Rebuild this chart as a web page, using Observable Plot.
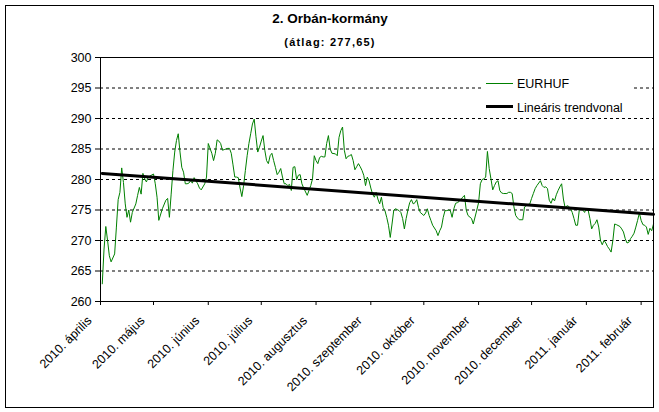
<!DOCTYPE html>
<html><head><meta charset="utf-8">
<script src="https://cdn.jsdelivr.net/npm/d3@7"></script>
<script src="https://cdn.jsdelivr.net/npm/@observablehq/plot@0.6"></script>
<style>
body{margin:0;background:#fff;font-family:"Liberation Sans",Arial,sans-serif;}
#wrap{position:relative;width:659px;height:412px;overflow:hidden;background:#fff;}
#chart{position:absolute;left:0;top:0;}
#frame{position:absolute;left:5px;top:5px;width:649px;height:403px;box-sizing:border-box;border:1px solid #000;pointer-events:none;}
#title{position:absolute;left:0;width:660px;top:11px;text-align:center;font-weight:bold;font-size:13.5px;line-height:16px;white-space:nowrap;}
#subtitle{position:absolute;left:0;width:660px;top:35px;text-align:center;font-weight:bold;font-size:11px;line-height:14px;letter-spacing:1.2px;white-space:nowrap;}
#legend{position:absolute;left:481px;top:70px;width:152px;height:46px;background:#fff;}
.sw{position:absolute;left:5px;width:27px;}
.lt{position:absolute;left:36px;font-size:12.5px;line-height:14px;white-space:nowrap;}
</style></head><body>
<div id="wrap">
  <div id="chart"></div>
  <div id="title">2. Orbán-kormány</div>
  <div id="subtitle">(átlag: 277,65)</div>
  <div id="legend">
    <div class="sw" style="top:13px;height:1px;background:#008000"></div>
    <span class="lt" style="top:7px">EURHUF</span>
    <div class="sw" style="top:35px;height:3px;background:#000"></div>
    <span class="lt" style="top:31px">Lineáris trendvonal</span>
  </div>
  <div id="frame"></div>
</div>
<script>
// EUR/HUF exchange rate
const eurhuf = [
["2010-04-02",262.9],["2010-04-03",268.6],["2010-04-04",272.3],["2010-04-05",270.0],["2010-04-06",267.5],["2010-04-07",266.5],["2010-04-09",267.8],["2010-04-10",272.2],["2010-04-11",276.7],["2010-04-12",277.9],["2010-04-13",281.9],["2010-04-14",279.5],["2010-04-15",276.0],["2010-04-16",273.8],["2010-04-17",275.0],["2010-04-18",273.0],["2010-04-19",274.6],["2010-04-21",276.0],["2010-04-22",277.4],["2010-04-23",278.7],["2010-04-24",277.6],["2010-04-25",281.0],["2010-04-26",280.1],["2010-04-27",279.6],["2010-04-28",280.4],
["2010-05-01",280.9],["2010-05-02",279.3],["2010-05-03",277.1],["2010-05-04",273.3],["2010-05-06",275.2],["2010-05-08",276.6],["2010-05-09",276.9],["2010-05-10",273.8],["2010-05-11",277.6],["2010-05-12",281.5],["2010-05-13",284.5],["2010-05-14",286.4],["2010-05-15",287.5],["2010-05-16",284.5],["2010-05-17",282.0],["2010-05-18",281.2],["2010-05-19",279.3],["2010-05-20",279.3],["2010-05-21",279.4],["2010-05-22",279.8],["2010-05-23",279.4],["2010-05-24",280.3],["2010-05-25",279.8],["2010-05-26",279.3],["2010-05-27",278.6],["2010-05-28",278.3],["2010-05-30",279.3],["2010-05-31",280.4],
["2010-06-01",285.9],["2010-06-02",285.1],["2010-06-03",284.3],["2010-06-04",283.1],["2010-06-05",284.3],["2010-06-06",286.5],["2010-06-07",286.3],["2010-06-08",285.9],["2010-06-09",284.8],["2010-06-10",284.9],["2010-06-12",285.1],["2010-06-13",285.1],["2010-06-14",284.3],["2010-06-15",282.4],["2010-06-16",280.4],["2010-06-17",280.4],["2010-06-18",280.3],["2010-06-19",278.6],["2010-06-20",277.2],["2010-06-21",279.0],["2010-06-22",281.5],["2010-06-23",283.9],["2010-06-24",285.9],["2010-06-25",287.5],["2010-06-26",289.1],["2010-06-27",289.9],["2010-06-28",287.0],["2010-06-29",284.5],["2010-06-30",285.3],
["2010-07-01",286.3],["2010-07-02",287.2],["2010-07-03",284.8],["2010-07-04",283.1],["2010-07-05",282.6],["2010-07-06",283.9],["2010-07-07",284.3],["2010-07-08",283.1],["2010-07-09",282.0],["2010-07-10",280.8],["2010-07-11",281.2],["2010-07-12",281.8],["2010-07-13",280.4],["2010-07-14",279.3],["2010-07-15",279.3],["2010-07-16",279.0],["2010-07-17",279.2],["2010-07-18",278.2],["2010-07-19",282.0],["2010-07-20",282.1],["2010-07-21",280.0],["2010-07-22",280.7],["2010-07-23",280.8],["2010-07-24",279.3],["2010-07-25",278.6],["2010-07-27",277.4],["2010-07-28",278.2],["2010-07-29",279.0],["2010-07-30",280.1],["2010-07-31",283.9],
["2010-08-01",283.1],["2010-08-02",282.6],["2010-08-03",283.6],["2010-08-04",283.8],["2010-08-05",283.7],["2010-08-06",283.7],["2010-08-07",285.9],["2010-08-08",287.2],["2010-08-09",285.0],["2010-08-10",284.3],["2010-08-12",284.2],["2010-08-13",283.9],["2010-08-14",286.9],["2010-08-15",288.0],["2010-08-16",288.6],["2010-08-17",284.8],["2010-08-18",283.4],["2010-08-19",283.8],["2010-08-20",283.9],["2010-08-21",284.1],["2010-08-22",283.1],["2010-08-23",281.6],["2010-08-24",282.1],["2010-08-25",282.6],["2010-08-26",282.1],["2010-08-27",281.5],["2010-08-28",280.7],["2010-08-29",279.0],["2010-08-30",280.4],["2010-08-31",279.8],
["2010-09-01",278.6],["2010-09-02",277.6],["2010-09-03",277.1],["2010-09-04",277.9],["2010-09-05",276.8],["2010-09-06",276.0],["2010-09-07",277.1],["2010-09-08",275.4],["2010-09-09",274.9],["2010-09-10",273.8],["2010-09-11",272.5],["2010-09-12",270.5],["2010-09-13",272.7],["2010-09-14",275.0],["2010-09-15",275.2],["2010-09-17",274.9],["2010-09-18",274.6],["2010-09-19",273.6],["2010-09-20",271.9],["2010-09-21",273.6],["2010-09-22",275.0],["2010-09-23",276.2],["2010-09-24",276.7],["2010-09-25",276.0],["2010-09-26",276.2],["2010-09-27",276.7],["2010-09-28",275.4],["2010-09-29",274.6],
["2010-10-01",274.1],["2010-10-02",274.5],["2010-10-03",275.2],["2010-10-04",274.1],["2010-10-05",273.3],["2010-10-06",272.5],["2010-10-08",271.6],["2010-10-09",270.8],["2010-10-10",271.6],["2010-10-11",272.2],["2010-10-12",273.8],["2010-10-13",274.9],["2010-10-14",274.9],["2010-10-15",275.0],["2010-10-16",274.9],["2010-10-17",273.8],["2010-10-18",275.2],["2010-10-19",276.1],["2010-10-20",276.2],["2010-10-21",276.4],["2010-10-22",276.7],["2010-10-23",277.1],["2010-10-24",277.4],["2010-10-25",275.0],["2010-10-26",274.1],["2010-10-28",273.6],["2010-10-29",272.7],["2010-10-31",275.0],
["2010-11-01",276.2],["2010-11-02",279.3],["2010-11-03",280.0],["2010-11-04",280.1],["2010-11-05",280.4],["2010-11-06",284.6],["2010-11-07",281.8],["2010-11-08",280.1],["2010-11-09",278.3],["2010-11-10",279.0],["2010-11-11",279.6],["2010-11-12",279.8],["2010-11-13",278.2],["2010-11-14",277.8],["2010-11-15",277.7],["2010-11-17",277.7],["2010-11-18",277.9],["2010-11-19",277.9],["2010-11-20",277.7],["2010-11-21",275.5],["2010-11-22",274.1],["2010-11-23",273.7],["2010-11-24",273.4],["2010-11-25",273.4],["2010-11-26",273.4],["2010-11-27",275.5],["2010-11-28",275.7],["2010-11-29",275.9],["2010-11-30",276.0],
["2010-12-01",276.9],["2010-12-02",277.7],["2010-12-03",278.5],["2010-12-04",279.0],["2010-12-06",279.8],["2010-12-07",279.0],["2010-12-08",278.7],["2010-12-09",278.8],["2010-12-10",278.5],["2010-12-11",276.6],["2010-12-12",276.1],["2010-12-13",276.9],["2010-12-14",276.5],["2010-12-15",277.5],["2010-12-16",278.2],["2010-12-17",278.8],["2010-12-18",279.3],["2010-12-19",276.8],["2010-12-20",275.3],["2010-12-21",275.7],["2010-12-22",275.6],["2010-12-23",275.3],["2010-12-24",274.6],["2010-12-25",273.6],["2010-12-26",272.5],["2010-12-27",272.5],["2010-12-28",275.0],["2010-12-29",275.3],["2010-12-30",275.0],["2010-12-31",274.6],
["2011-01-01",275.3],["2011-01-02",275.0],["2011-01-03",273.6],["2011-01-04",271.9],["2011-01-05",272.5],["2011-01-06",272.8],["2011-01-07",273.4],["2011-01-08",272.2],["2011-01-09",270.0],["2011-01-10",269.3],["2011-01-11",270.0],["2011-01-12",269.6],["2011-01-13",269.0],["2011-01-14",268.6],["2011-01-15",268.1],["2011-01-16",270.0],["2011-01-17",272.7],["2011-01-18",272.6],["2011-01-20",272.3],["2011-01-21",271.9],["2011-01-22",271.4],["2011-01-23",270.3],["2011-01-24",269.6],["2011-01-25",269.7],["2011-01-26",270.3],["2011-01-27",270.7],["2011-01-28",271.2],["2011-01-29",272.2],["2011-01-30",273.3],["2011-01-31",274.5],
["2011-02-01",273.3],["2011-02-02",272.6],["2011-02-03",272.5],["2011-02-04",272.2],["2011-02-05",271.0],["2011-02-06",272.0],["2011-02-07",271.6],["2011-02-08",272.7]
];
// linear trend line (start and end values)
const trend = [["2010-04-02",281.0],["2011-02-08",274.3]];
const xDomain = ["2010-04-01","2011-02-08"];
const yDomain = [260, 300];
const yTicks = [260,265,270,275,280,285,290,295,300];
const gridValues = [265,270,275,280,285,290,295];
const monthStarts = ["2010-04-01","2010-05-01","2010-06-01","2010-07-01","2010-08-01","2010-09-01","2010-10-01","2010-11-01","2010-12-01","2011-01-01","2011-02-01"];
const monthLabels = ["2010. április","2010. május","2010. június","2010. július","2010. augusztus","2010. szeptember","2010. október","2010. november","2010. december","2011. január","2011. február"];

const parse = s => new Date(s + "T00:00:00Z");
const series = eurhuf.map(([d, v]) => ({date: parse(d), value: v}));
const trendData = trend.map(([d, v]) => ({date: parse(d), value: v}));
const ticks = monthStarts.map(parse);
const labelOf = new Map(ticks.map((t, i) => [+t, monthLabels[i]]));

const chart = Plot.plot({
  width: 659, height: 412,
  marginTop: 57, marginBottom: 111, marginLeft: 100, marginRight: 6,
  style: {fontFamily: "'Liberation Sans', Arial, sans-serif", fontSize: "12.5px", color: "#000", background: "transparent", overflow: "visible"},
  x: {type: "utc", domain: xDomain.map(parse)},
  y: {domain: yDomain},
  marks: [
    Plot.ruleY(gridValues, {stroke: "#000", strokeWidth: 1, strokeDasharray: "3,3"}),
    Plot.ruleY([yDomain[1]], {stroke: "#000", strokeWidth: 1}),
    Plot.line(series, {x: "date", y: "value", stroke: "#008000", strokeWidth: 1}),
    Plot.line(trendData, {x: "date", y: "value", stroke: "#000", strokeWidth: 3}),
    Plot.ruleY([yDomain[0]], {stroke: "#000", strokeWidth: 1}),
    Plot.ruleX([parse(xDomain[0])], {stroke: "#000", strokeWidth: 1}),
    Plot.axisY({ticks: yTicks, tickSize: 5, tickPadding: 4, tickFormat: d => String(d), fontSize: 12.5, label: null}),
    Plot.axisX({ticks: ticks, tickSize: 4, tickFormat: () => "", label: null}),
    Plot.axisX({ticks: ticks, tickSize: 0, tickPadding: 0, tickRotate: -45, dx: -11, dy: 17, tickFormat: d => labelOf.get(+d), fontSize: 12.5, label: null})
  ]
});
document.getElementById("chart").appendChild(chart);
</script>
</body></html>
